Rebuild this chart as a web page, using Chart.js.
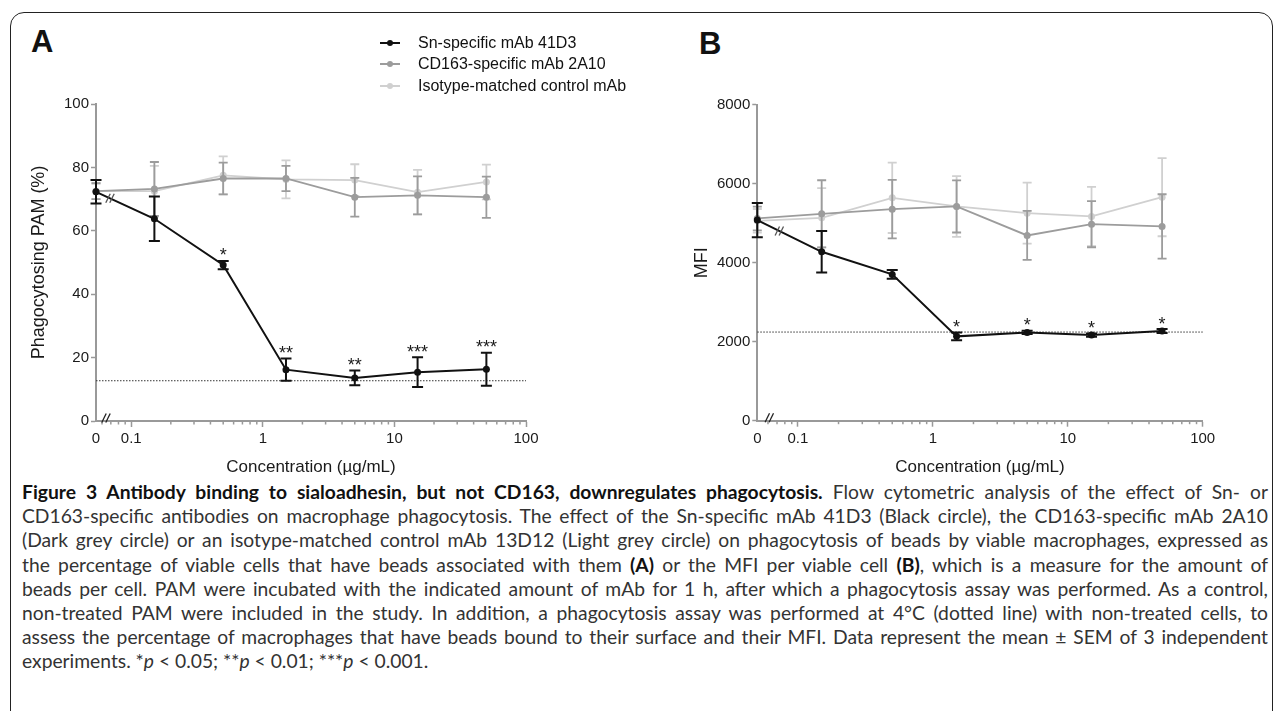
<!DOCTYPE html>
<html>
<head>
<meta charset="utf-8">
<script src="https://cdn.jsdelivr.net/npm/chart.js@4.4.1/dist/chart.umd.min.js"></script>
<style>
  html, body { margin: 0; padding: 0; background: #fff; }
  body { width: 1284px; height: 711px; position: relative; overflow: hidden; font-family: "Liberation Sans", Arial, sans-serif; }
  .frame { position: absolute; left: 10px; top: 12px; width: 1263px; height: 730px; border: 1.5px solid #222; border-radius: 14px; box-sizing: border-box; }
  .panel-label { position: absolute; font-weight: bold; font-size: 31px; color: #111; line-height: 1; }
  .chart-box { position: absolute; }
  .legend { position: absolute; left: 380px; top: 32px; font-size: 16px; color: #111; }
  .legend .item { height: 21.5px; display: flex; align-items: center; }
  .legend .mark { position: relative; width: 20px; height: 2px; margin-right: 18px; }
  .legend .mark span { position: absolute; left: 7px; top: -2px; width: 6px; height: 6px; border-radius: 50%; }
  .caption { position: absolute; left: 22px; top: 480px; width: 1246px; font-family: "Lato", sans-serif; font-size: 16px; line-height: 24.2px; color: #333; }
  .caption .line { display: block; white-space: nowrap; }
  .caption b { color: #111; }
</style>
</head>
<body>
<div class="frame"></div>
<div class="panel-label" style="left:31px; top:26px;">A</div>
<div class="panel-label" style="left:699px; top:28px;">B</div>

<div class="chart-box" style="left:20px; top:80px; width:620px; height:400px;"><canvas id="chartA" width="620" height="400"></canvas></div>
<div class="chart-box" style="left:680px; top:80px; width:600px; height:400px;"><canvas id="chartB" width="600" height="400"></canvas></div>
<div class="legend" id="legend"></div>

<div class="caption" id="caption">
  <span class="line"><b>Figure 3 Antibody binding to sialoadhesin, but not CD163, downregulates phagocytosis.</b> Flow cytometric analysis of the effect of Sn- or</span>
  <span class="line">CD163-specific antibodies on macrophage phagocytosis. The effect of the Sn-specific mAb 41D3 (Black circle), the CD163-specific mAb 2A10</span>
  <span class="line">(Dark grey circle) or an isotype-matched control mAb 13D12 (Light grey circle) on phagocytosis of beads by viable macrophages, expressed as</span>
  <span class="line">the percentage of viable cells that have beads associated with them <b>(A)</b> or the MFI per viable cell <b>(B)</b>, which is a measure for the amount of</span>
  <span class="line">beads per cell. PAM were incubated with the indicated amount of mAb for 1 h, after which a phagocytosis assay was performed. As a control,</span>
  <span class="line">non-treated PAM were included in the study. In addition, a phagocytosis assay was performed at 4°C (dotted line) with non-treated cells, to</span>
  <span class="line">assess the percentage of macrophages that have beads bound to their surface and their MFI. Data represent the mean ± SEM of 3 independent</span>
  <span class="line" data-last="1">experiments. *<i>p</i> &lt; 0.05; **<i>p</i> &lt; 0.01; ***<i>p</i> &lt; 0.001.</span>
</div>

<script>
// concentrations in µg/mL, 0 = non-treated control (drawn at the axis break)
const concentrations = [0, 0.15, 0.5, 1.5, 5, 15, 50]
const xTickLabels = ["0", "0.1", "1", "10", "100"]
const xMajorTicks = [0.1, 1, 10, 100]

const seriesNames = ["Sn-specific mAb 41D3", "CD163-specific mAb 2A10", "Isotype-matched control mAb"]
const seriesColors = ["#111111", "#9c9c9c", "#d0d0d0"]

// Panel A - phagocytosing PAM (%)
const snPercent = [72.3, 63.8, 49.2, 16.2, 13.6, 15.4, 16.3]
const snPercentSem = [3.7, 7.0, 1.3, 3.5, 2.3, 4.7, 5.2]
const cdPercent = [72.5, 73.2, 76.5, 76.5, 70.6, 71.2, 70.6]
const cdPercentSem = [2.5, 8.5, 5.0, 4.0, 6.1, 6.0, 6.5]
const isoPercent = [72.5, 72.5, 77.5, 76.2, 76.0, 72.2, 75.4]
const isoPercentSem = [2.5, 8.0, 6.0, 6.0, 5.0, 7.0, 5.5]
const percentAt4C = 12.7
const percentStars = ["", "", "*", "**", "**", "***", "***"]
const percentTicks = [0, 20, 40, 60, 80, 100]

// Panel B - MFI
const snMfi = [5078, 4276, 3704, 2135, 2236, 2168, 2269]
const snMfiSem = [435, 525, 110, 100, 40, 40, 50]
const cdMfi = [5120, 5237, 5356, 5424, 4690, 4976, 4918]
const cdMfiSem = [300, 850, 740, 660, 620, 585, 815]
const isoMfi = [5060, 5136, 5642, 5424, 5255, 5171, 5660]
const isoMfiSem = [300, 750, 890, 770, 770, 750, 990]
const mfiAt4C = 2244
const mfiStars = ["", "", "", "*", "*", "*", "*"]
const mfiTicks = [0, 2000, 4000, 6000, 8000]

const axisColor = "#999999"
const textColor = "#1a1a1a"
Chart.defaults.font.family = "'Liberation Sans', Arial, sans-serif"
Chart.defaults.color = textColor

// extra drawing info per canvas (error bars, stars, break marks)
const extras = {}

function isMajor(v) {
  return xMajorTicks.some((m) => Math.abs(v - m) / m < 1e-6)
}

function buildLogTicks(min, max) {
  const ticks = [min]
  for (let e = -2; e <= 2; e++) {
    for (let m = 1; m <= 9; m++) {
      const v = +(m * Math.pow(10, e)).toPrecision(6)
      if (v > min * 1.0001 && v <= max) ticks.push(v)
    }
  }
  return ticks
}

const decorations = {
  id: "decorations",
  beforeDatasetDraw(chart, args) {
    const ex = extras[chart.canvas.id]
    const err = ex.errors[args.index]
    if (!err) return
    const ctx = chart.ctx
    const yScale = chart.scales.y
    const ds = chart.data.datasets[args.index]
    const cap = args.index === 0 ? 5.5 : 4.5
    ctx.save()
    ctx.strokeStyle = ds.borderColor
    ctx.lineWidth = args.index === 0 ? 2 : 1.8
    args.meta.data.forEach((pt, j) => {
      const v = ds.data[j].y
      const top = yScale.getPixelForValue(v + err[j])
      const bot = yScale.getPixelForValue(v - err[j])
      ctx.beginPath()
      ctx.moveTo(pt.x, top)
      ctx.lineTo(pt.x, bot)
      ctx.moveTo(pt.x - cap, top)
      ctx.lineTo(pt.x + cap, top)
      ctx.moveTo(pt.x - cap, bot)
      ctx.lineTo(pt.x + cap, bot)
      ctx.stroke()
    })
    ctx.restore()
  },
  afterDraw(chart) {
    const ex = extras[chart.canvas.id]
    const ctx = chart.ctx
    const area = chart.chartArea
    const xScale = chart.scales.x
    const yScale = chart.scales.y

    // minor ticks on the log axis
    ctx.save()
    ctx.strokeStyle = axisColor
    ctx.lineWidth = 1.5
    xScale.ticks.forEach((t, i) => {
      if (i === 0 || isMajor(t.value)) return
      const px = xScale.getPixelForValue(t.value)
      ctx.beginPath()
      ctx.moveTo(px, area.bottom)
      ctx.lineTo(px, area.bottom + 3.5)
      ctx.stroke()
    })
    ctx.restore()

    // significance stars above the Sn-specific error bars
    const meta = chart.getDatasetMeta(0)
    const ds = chart.data.datasets[0]
    ctx.save()
    ctx.fillStyle = textColor
    ctx.font = "18px 'Liberation Sans', Arial, sans-serif"
    ctx.textAlign = "center"
    ctx.textBaseline = "alphabetic"
    meta.data.forEach((pt, j) => {
      if (!ex.stars[j]) return
      const top = yScale.getPixelForValue(ds.data[j].y + ex.errors[0][j])
      ctx.fillText(ex.stars[j], pt.x, top + 0.5)
    })
    ctx.restore()

    // axis break "//" marks
    const slash = (cx, cy, color) => {
      ctx.save()
      ctx.strokeStyle = color
      ctx.lineWidth = 1.3
      for (let k = -1; k <= 1; k += 2) {
        const ox = cx + k * 2
        ctx.beginPath()
        ctx.moveTo(ox - 2.2, cy + 4.5)
        ctx.lineTo(ox + 2.2, cy - 4.5)
        ctx.stroke()
      }
      ctx.restore()
    }
    slash(area.left + ex.axisBreak, area.bottom - 3, "#222")
    const p0 = meta.data[0]
    const p1 = meta.data[1]
    const bx = area.left + ex.lineBreak
    const by = p0.y + (p1.y - p0.y) * (bx - p0.x) / (p1.x - p0.x)
    slash(bx, by, "#555")
  },
}

function makeChart(id, cfg) {
  extras[id] = { errors: cfg.errors, stars: cfg.stars, axisBreak: cfg.axisBreak, lineBreak: cfg.lineBreak }
  const datasets = cfg.series.map((vals, i) => ({
    label: seriesNames[i],
    data: concentrations.map((c, j) => ({ x: c === 0 ? cfg.xMin : c, y: vals[j] })),
    borderColor: seriesColors[i],
    backgroundColor: seriesColors[i],
    pointBackgroundColor: seriesColors[i],
    pointBorderColor: seriesColors[i],
    pointRadius: 3.5,
    pointBorderWidth: 0,
    borderWidth: i === 0 ? 2 : 1.8,
    tension: 0,
    clip: false,
  }))
  datasets.push({
    label: "4°C",
    data: [{ x: cfg.xMin, y: cfg.refLine }, { x: 100, y: cfg.refLine }],
    borderColor: "#333",
    borderWidth: 1,
    borderDash: [1.5, 1.5],
    pointRadius: 0,
    clip: false,
  })

  new Chart(document.getElementById(id), {
    type: "line",
    data: { datasets: datasets },
    plugins: [decorations],
    options: {
      responsive: false,
      animation: false,
      events: [],
      layout: { padding: cfg.padding },
      plugins: { legend: { display: false }, tooltip: { enabled: false } },
      scales: {
        x: {
          type: "logarithmic",
          min: cfg.xMin,
          max: 100,
          afterBuildTicks: (scale) => {
            scale.ticks = buildLogTicks(cfg.xMin, 100).map((v) => ({ value: v }))
          },
          afterFit: (scale) => {
            scale.height = cfg.xHeight
          },
          ticks: {
            autoSkip: false,
            maxRotation: 0,
            padding: 3,
            color: textColor,
            font: { size: 15 },
            callback: (v, i) => {
              if (i === 0) return xTickLabels[0]
              const k = xMajorTicks.findIndex((m) => Math.abs(v - m) / m < 1e-6)
              return k >= 0 ? xTickLabels[k + 1] : ""
            },
          },
          grid: {
            drawOnChartArea: false,
            tickLength: 6,
            tickWidth: 1.5,
            tickColor: (c) => (c.tick && isMajor(c.tick.value) ? axisColor : "rgba(0,0,0,0)"),
          },
          border: { color: axisColor, width: 2 },
          title: { display: true, text: "Concentration (µg/mL)", color: textColor, font: { size: 17 }, padding: 0 },
        },
        y: {
          min: cfg.yTicks[0],
          max: cfg.yTicks[cfg.yTicks.length - 1],
          afterBuildTicks: (scale) => {
            scale.ticks = cfg.yTicks.map((v) => ({ value: v }))
          },
          afterFit: (scale) => {
            scale.width = cfg.yWidth
          },
          ticks: { padding: 2, color: textColor, font: { size: 15 }, callback: (v) => String(v) },
          grid: { drawOnChartArea: false, tickLength: 5, tickWidth: 1.5, tickColor: axisColor },
          border: { color: axisColor, width: 2 },
          title: { display: true, text: cfg.yTitle, color: textColor, font: { size: 18 }, padding: 0 },
        },
      },
    },
  })
}

makeChart("chartA", {
  series: [snPercent, cdPercent, isoPercent],
  errors: [snPercentSem, cdPercentSem, isoPercentSem],
  stars: percentStars,
  refLine: percentAt4C,
  yTicks: percentTicks,
  yTitle: "Phagocytosing PAM (%)",
  xMin: 0.054,
  padding: { left: 8, top: 24, right: 114, bottom: 2 },
  yWidth: 68,
  xHeight: 57,
  axisBreak: 10,
  lineBreak: 14,
})

makeChart("chartB", {
  series: [snMfi, cdMfi, isoMfi],
  errors: [snMfiSem, cdMfiSem, isoMfiSem],
  stars: mfiStars,
  refLine: mfiAt4C,
  yTicks: mfiTicks,
  yTitle: "MFI",
  xMin: 0.05,
  padding: { left: 11, top: 24.7, right: 77.3, bottom: 2 },
  yWidth: 66.3,
  xHeight: 57.3,
  axisBreak: 12,
  lineBreak: 22,
})

// HTML legend for panel A
const legend = document.getElementById("legend")
seriesNames.forEach((name, i) => {
  const item = document.createElement("div")
  item.className = "item"
  item.innerHTML = '<div class="mark" style="background:' + seriesColors[i] + '"><span style="background:' + seriesColors[i] + '"></span></div>' + name
  legend.appendChild(item)
})

// size the caption font so the longest line fits, then justify each line
const captionWidth = 1246
const caption = document.getElementById("caption")
const lines = Array.from(caption.querySelectorAll(".line"))
const natural = () =>
  lines.map((line) => {
    line.style.display = "inline-block"
    const w = line.getBoundingClientRect().width
    line.style.display = "block"
    return w
  })
const widest = Math.max(...natural().filter((w, i) => !lines[i].dataset.last))
caption.style.fontSize = (16 * 0.97 * (captionWidth - 6)) / widest + "px"
natural().forEach((w, i) => {
  const line = lines[i]
  if (line.dataset.last) return
  const spaces = (line.textContent.trim().match(/ /g) || []).length
  line.style.wordSpacing = (captionWidth - w) / spaces + "px"
})
</script>
</body>
</html>
